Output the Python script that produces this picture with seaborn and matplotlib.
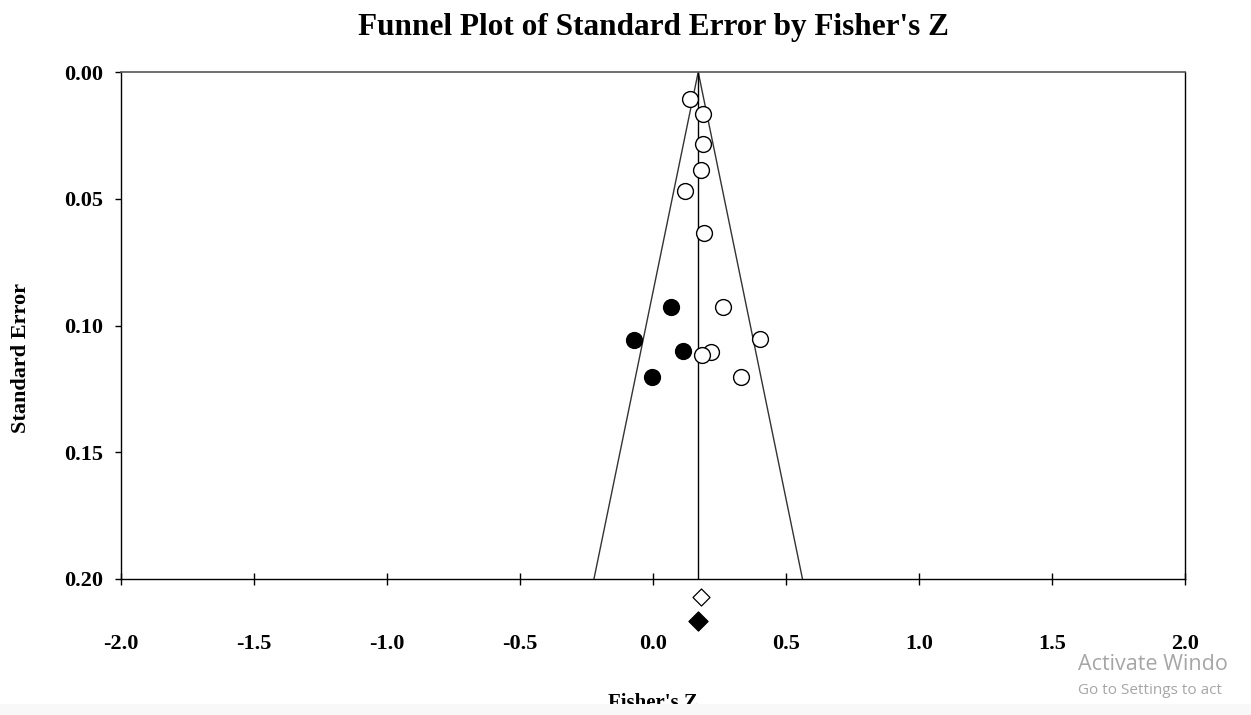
import matplotlib
matplotlib.use("Agg")
import matplotlib.pyplot as plt
import seaborn as sns
import pandas as pd
import numpy as np

# ---- data ----
obs_z = [0.139, 0.189, 0.189, 0.179, 0.121, 0.192, 0.264, 0.402, 0.218, 0.183, 0.332]
obs_se = [0.0107, 0.0166, 0.0285, 0.0387, 0.0469, 0.0634, 0.0927, 0.1054, 0.1103, 0.1118, 0.1204]
imp_z = [0.068, -0.073, 0.111, -0.002]
imp_se = [0.0928, 0.1058, 0.1102, 0.1204]
combined_mean = 0.17          # centre of the funnel
observed_diamond = (0.182, 0.207)
adjusted_diamond = (0.170, 0.2166)
x_ticks = [-2.0, -1.5, -1.0, -0.5, 0.0, 0.5, 1.0, 1.5, 2.0]
y_ticks = [0.00, 0.05, 0.10, 0.15, 0.20]

df = pd.DataFrame({
    "z": obs_z + imp_z,
    "se": obs_se + imp_se,
    "kind": ["Observed"] * len(obs_z) + ["Imputed"] * len(imp_z),
})

sns.set_theme(style="white")
plt.rcParams["font.family"] = ["Liberation Serif", "DejaVu Serif"]
plt.rcParams["text.color"] = "black"

fig = plt.figure(figsize=(12.51, 7.15), dpi=100)
ax = fig.add_axes([121 / 1251, 1 - 579 / 715, (1185 - 121) / 1251, (579 - 72) / 715])

# funnel
se_max = 0.20
ax.plot([combined_mean - 1.96 * se_max, combined_mean, combined_mean + 1.96 * se_max],
        [se_max, 0, se_max], color="#333333", lw=1.0, zorder=1)
ax.plot([combined_mean, combined_mean], [0, se_max], color="black", lw=1.0, zorder=1)

sns.scatterplot(data=df[df.kind == "Observed"], x="z", y="se", ax=ax, marker="o",
                s=130, facecolor="white", edgecolor="black", linewidth=1.0, zorder=3)
sns.scatterplot(data=df[df.kind == "Imputed"], x="z", y="se", ax=ax, marker="o",
                s=130, color="black", edgecolor="black", linewidth=1.0, zorder=3)

d1 = ax.scatter([observed_diamond[0]], [observed_diamond[1]], marker="D", s=75,
                facecolor="white", edgecolor="black", linewidth=0.9, zorder=4)
d2 = ax.scatter([adjusted_diamond[0]], [adjusted_diamond[1]], marker="D", s=95,
                facecolor="black", edgecolor="black", linewidth=0.9, zorder=4)
d1.set_clip_on(False)
d2.set_clip_on(False)

ax.set_xlim(-2.0, 2.0)
ax.set_ylim(0.20, 0.00)
ax.set_xticks(x_ticks)
ax.set_xticklabels([f"{t:.1f}" for t in x_ticks])
ax.set_yticks(y_ticks)
ax.set_yticklabels([f"{t:.2f}" for t in y_ticks])

for side in ["left", "bottom", "right"]:
    ax.spines[side].set_color("black")
    ax.spines[side].set_linewidth(1.0)
ax.spines["top"].set_color("#555555")
ax.spines["top"].set_linewidth(1.2)

ax.tick_params(axis="x", direction="inout", length=9, width=1, pad=35,
               labelsize=16, bottom=True, colors="black")
ax.tick_params(axis="y", direction="out", length=4, width=1, pad=9,
               labelsize=16, left=True, colors="black")
for lab in ax.get_xticklabels() + ax.get_yticklabels():
    lab.set_fontweight("bold")

ax.set_xlabel("")
ax.set_ylabel("")
fig.text(21 / 1251, 1 - 358 / 715, "Standard Error", rotation=90, ha="center",
         va="center", fontsize=16, fontweight="bold", color="black")
fig.text(653 / 1251, 1 - 693 / 715, "Fisher's Z", ha="center", va="top",
         fontsize=15, fontweight="bold", color="black")
fig.text(653 / 1251, 1 - 27 / 715, "Funnel Plot of Standard Error by Fisher's Z",
         ha="center", va="center", fontsize=22.5, fontweight="bold", color="black")

# screenshot artefacts (already cut off in the reference)
fig.text(1078 / 1251, 1 - 664 / 715, "Activate Windo", ha="left", va="center",
         fontsize=15.5, color="#a6a6a6", family=["Open Sans", "DejaVu Sans"])
fig.text(1078 / 1251, 1 - 691 / 715, "Go to Settings to act", ha="left",
         va="center", fontsize=11, color="#a6a6a6", family=["Open Sans", "DejaVu Sans"])
fig.patches.append(plt.Rectangle((0, 0), 1, 1 - 704 / 715, transform=fig.transFigure,
                                 facecolor="#f8f8f8", edgecolor="none", zorder=11))

fig.savefig("out.png", dpi=100)
